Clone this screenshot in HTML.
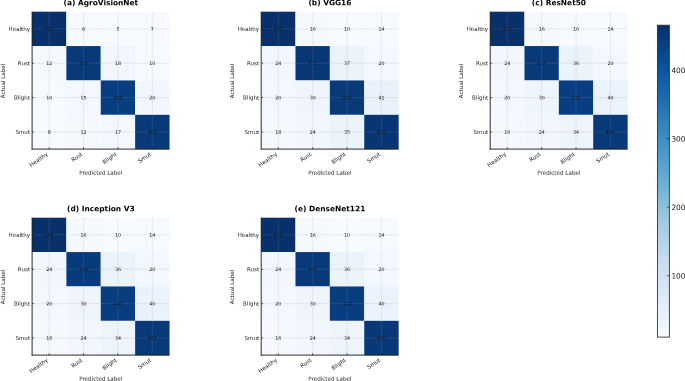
<!DOCTYPE html>
<html><head><meta charset="utf-8"><title>Confusion matrices</title>
<style>html,body{margin:0;padding:0;background:#fff}svg{display:block;will-change:transform}text{text-rendering:geometricPrecision;font-family:"DejaVu Sans","Liberation Sans",sans-serif;fill:#161616}.b{font-weight:bold;fill:#000}</style>
</head><body>
<svg width="685" height="381" viewBox="0 0 685 381">
<rect width="685" height="381" fill="#fff"/>
<g transform="translate(32.0,11.7)">
<rect x="0.000" y="0.000" width="34.425" height="34.425" fill="#08306b"/>
<rect x="34.375" y="0.000" width="34.425" height="34.425" fill="#f6faff"/>
<rect x="68.750" y="0.000" width="34.425" height="34.425" fill="#f7fbff"/>
<rect x="103.125" y="0.000" width="34.425" height="34.425" fill="#f6faff"/>
<rect x="0.000" y="34.375" width="34.425" height="34.425" fill="#f5f9fe"/>
<rect x="34.375" y="34.375" width="34.425" height="34.425" fill="#083a7a"/>
<rect x="68.750" y="34.375" width="34.425" height="34.425" fill="#f2f7fd"/>
<rect x="103.125" y="34.375" width="34.425" height="34.425" fill="#f5fafe"/>
<rect x="0.000" y="68.750" width="34.425" height="34.425" fill="#f5fafe"/>
<rect x="34.375" y="68.750" width="34.425" height="34.425" fill="#f3f8fe"/>
<rect x="68.750" y="68.750" width="34.425" height="34.425" fill="#083d7f"/>
<rect x="103.125" y="68.750" width="34.425" height="34.425" fill="#f1f7fd"/>
<rect x="0.000" y="103.125" width="34.425" height="34.425" fill="#f6faff"/>
<rect x="34.375" y="103.125" width="34.425" height="34.425" fill="#f5f9fe"/>
<rect x="68.750" y="103.125" width="34.425" height="34.425" fill="#f2f8fd"/>
<rect x="103.125" y="103.125" width="34.425" height="34.425" fill="#083979"/>
<path d="M17.188 0V137.5M0 17.188H137.5M51.562 0V137.5M0 51.562H137.5M85.938 0V137.5M0 85.938H137.5M120.312 0V137.5M0 120.312H137.5" stroke="#9c9c9c" stroke-opacity="0.55" stroke-width="0.5" stroke-dasharray="1.5 0.7" fill="none"/>
<path d="M17.188 137.5v-2.0M0 17.188h2.0M51.562 137.5v-2.0M0 51.562h2.0M85.938 137.5v-2.0M0 85.938h2.0M120.312 137.5v-2.0M0 120.312h2.0" stroke="#000" stroke-width="0.6" fill="none"/>
<path d="M0.1 0V137.88M-0.38 137.40H137.5" stroke="#222" stroke-width="0.95" fill="none"/>
<text transform="translate(17.19,18.93) rotate(0.1)" font-size="4.77" text-anchor="middle">480</text>
<text transform="translate(51.56,18.93) rotate(0.1)" font-size="4.77" text-anchor="middle">8</text>
<text transform="translate(85.94,18.93) rotate(0.1)" font-size="4.77" text-anchor="middle">5</text>
<text transform="translate(120.31,18.93) rotate(0.1)" font-size="4.77" text-anchor="middle">7</text>
<text transform="translate(17.19,53.30) rotate(0.1)" font-size="4.77" text-anchor="middle">12</text>
<text transform="translate(51.56,53.30) rotate(0.1)" font-size="4.77" text-anchor="middle">460</text>
<text transform="translate(85.94,53.30) rotate(0.1)" font-size="4.77" text-anchor="middle">18</text>
<text transform="translate(120.31,53.30) rotate(0.1)" font-size="4.77" text-anchor="middle">10</text>
<text transform="translate(17.19,87.68) rotate(0.1)" font-size="4.77" text-anchor="middle">10</text>
<text transform="translate(51.56,87.68) rotate(0.1)" font-size="4.77" text-anchor="middle">15</text>
<text transform="translate(85.94,87.68) rotate(0.1)" font-size="4.77" text-anchor="middle">455</text>
<text transform="translate(120.31,87.68) rotate(0.1)" font-size="4.77" text-anchor="middle">20</text>
<text transform="translate(17.19,122.05) rotate(0.1)" font-size="4.77" text-anchor="middle">8</text>
<text transform="translate(51.56,122.05) rotate(0.1)" font-size="4.77" text-anchor="middle">12</text>
<text transform="translate(85.94,122.05) rotate(0.1)" font-size="4.77" text-anchor="middle">17</text>
<text transform="translate(120.31,122.05) rotate(0.1)" font-size="4.77" text-anchor="middle">463</text>
<text transform="translate(-2.05,19.20) rotate(0.1)" font-size="5.5" text-anchor="end">Healthy</text>
<text transform="translate(16.49,143.30) rotate(-35)" font-size="5.5" text-anchor="end">Healthy</text>
<text transform="translate(-2.05,53.57) rotate(0.1)" font-size="5.5" text-anchor="end">Rust</text>
<text transform="translate(50.86,143.30) rotate(-35)" font-size="5.5" text-anchor="end">Rust</text>
<text transform="translate(-2.05,87.94) rotate(0.1)" font-size="5.5" text-anchor="end">Blight</text>
<text transform="translate(85.24,143.30) rotate(-35)" font-size="5.5" text-anchor="end">Blight</text>
<text transform="translate(-2.05,122.32) rotate(0.1)" font-size="5.5" text-anchor="end">Smut</text>
<text transform="translate(119.61,143.30) rotate(-35)" font-size="5.5" text-anchor="end">Smut</text>
<text transform="translate(68.75,163.1) rotate(0.1)" font-size="5.62" text-anchor="middle">Predicted Label</text>
<text transform="translate(-27.1,69.25) rotate(-89.9)" font-size="5.62" text-anchor="middle">Actual Label</text>
<text class="b" transform="translate(68.85,-6.50) rotate(0.1)" font-size="7.44" text-anchor="middle">(a) AgroVisionNet</text>
</g>
<g transform="translate(261.1,11.7)">
<rect x="0.000" y="0.000" width="34.425" height="34.425" fill="#08306b"/>
<rect x="34.375" y="0.000" width="34.425" height="34.425" fill="#f5f9fe"/>
<rect x="68.750" y="0.000" width="34.425" height="34.425" fill="#f7fbff"/>
<rect x="103.125" y="0.000" width="34.425" height="34.425" fill="#f5fafe"/>
<rect x="0.000" y="34.375" width="34.425" height="34.425" fill="#f1f7fd"/>
<rect x="34.375" y="34.375" width="34.425" height="34.425" fill="#083776"/>
<rect x="68.750" y="34.375" width="34.425" height="34.425" fill="#ebf3fb"/>
<rect x="103.125" y="34.375" width="34.425" height="34.425" fill="#f3f8fe"/>
<rect x="0.000" y="68.750" width="34.425" height="34.425" fill="#f3f8fe"/>
<rect x="34.375" y="68.750" width="34.425" height="34.425" fill="#eef5fc"/>
<rect x="68.750" y="68.750" width="34.425" height="34.425" fill="#083a7a"/>
<rect x="103.125" y="68.750" width="34.425" height="34.425" fill="#e9f2fa"/>
<rect x="0.000" y="103.125" width="34.425" height="34.425" fill="#f4f9fe"/>
<rect x="34.375" y="103.125" width="34.425" height="34.425" fill="#f1f7fd"/>
<rect x="68.750" y="103.125" width="34.425" height="34.425" fill="#ecf4fb"/>
<rect x="103.125" y="103.125" width="34.425" height="34.425" fill="#083573"/>
<path d="M17.188 0V137.5M0 17.188H137.5M51.562 0V137.5M0 51.562H137.5M85.938 0V137.5M0 85.938H137.5M120.312 0V137.5M0 120.312H137.5" stroke="#9c9c9c" stroke-opacity="0.55" stroke-width="0.5" stroke-dasharray="1.5 0.7" fill="none"/>
<path d="M17.188 137.5v-2.0M0 17.188h2.0M51.562 137.5v-2.0M0 51.562h2.0M85.938 137.5v-2.0M0 85.938h2.0M120.312 137.5v-2.0M0 120.312h2.0" stroke="#000" stroke-width="0.6" fill="none"/>
<path d="M0.1 0V137.88M-0.38 137.40H137.5" stroke="#222" stroke-width="0.95" fill="none"/>
<text transform="translate(17.19,18.93) rotate(0.1)" font-size="4.77" text-anchor="middle">443</text>
<text transform="translate(51.56,18.93) rotate(0.1)" font-size="4.77" text-anchor="middle">16</text>
<text transform="translate(85.94,18.93) rotate(0.1)" font-size="4.77" text-anchor="middle">10</text>
<text transform="translate(120.31,18.93) rotate(0.1)" font-size="4.77" text-anchor="middle">14</text>
<text transform="translate(17.19,53.30) rotate(0.1)" font-size="4.77" text-anchor="middle">24</text>
<text transform="translate(51.56,53.30) rotate(0.1)" font-size="4.77" text-anchor="middle">431</text>
<text transform="translate(85.94,53.30) rotate(0.1)" font-size="4.77" text-anchor="middle">37</text>
<text transform="translate(120.31,53.30) rotate(0.1)" font-size="4.77" text-anchor="middle">20</text>
<text transform="translate(17.19,87.68) rotate(0.1)" font-size="4.77" text-anchor="middle">20</text>
<text transform="translate(51.56,87.68) rotate(0.1)" font-size="4.77" text-anchor="middle">30</text>
<text transform="translate(85.94,87.68) rotate(0.1)" font-size="4.77" text-anchor="middle">426</text>
<text transform="translate(120.31,87.68) rotate(0.1)" font-size="4.77" text-anchor="middle">41</text>
<text transform="translate(17.19,122.05) rotate(0.1)" font-size="4.77" text-anchor="middle">18</text>
<text transform="translate(51.56,122.05) rotate(0.1)" font-size="4.77" text-anchor="middle">24</text>
<text transform="translate(85.94,122.05) rotate(0.1)" font-size="4.77" text-anchor="middle">35</text>
<text transform="translate(120.31,122.05) rotate(0.1)" font-size="4.77" text-anchor="middle">433</text>
<text transform="translate(-2.05,19.20) rotate(0.1)" font-size="5.5" text-anchor="end">Healthy</text>
<text transform="translate(16.49,143.30) rotate(-35)" font-size="5.5" text-anchor="end">Healthy</text>
<text transform="translate(-2.05,53.57) rotate(0.1)" font-size="5.5" text-anchor="end">Rust</text>
<text transform="translate(50.86,143.30) rotate(-35)" font-size="5.5" text-anchor="end">Rust</text>
<text transform="translate(-2.05,87.94) rotate(0.1)" font-size="5.5" text-anchor="end">Blight</text>
<text transform="translate(85.24,143.30) rotate(-35)" font-size="5.5" text-anchor="end">Blight</text>
<text transform="translate(-2.05,122.32) rotate(0.1)" font-size="5.5" text-anchor="end">Smut</text>
<text transform="translate(119.61,143.30) rotate(-35)" font-size="5.5" text-anchor="end">Smut</text>
<text transform="translate(68.75,163.1) rotate(0.1)" font-size="5.62" text-anchor="middle">Predicted Label</text>
<text transform="translate(-27.1,69.25) rotate(-89.9)" font-size="5.62" text-anchor="middle">Actual Label</text>
<text class="b" transform="translate(68.85,-6.50) rotate(0.1)" font-size="7.44" text-anchor="middle">(b) VGG16</text>
</g>
<g transform="translate(490.1,11.7)">
<rect x="0.000" y="0.000" width="34.425" height="34.425" fill="#08306b"/>
<rect x="34.375" y="0.000" width="34.425" height="34.425" fill="#f5f9fe"/>
<rect x="68.750" y="0.000" width="34.425" height="34.425" fill="#f7fbff"/>
<rect x="103.125" y="0.000" width="34.425" height="34.425" fill="#f5fafe"/>
<rect x="0.000" y="34.375" width="34.425" height="34.425" fill="#f1f7fd"/>
<rect x="34.375" y="34.375" width="34.425" height="34.425" fill="#083a7a"/>
<rect x="68.750" y="34.375" width="34.425" height="34.425" fill="#ecf4fb"/>
<rect x="103.125" y="34.375" width="34.425" height="34.425" fill="#f3f8fe"/>
<rect x="0.000" y="68.750" width="34.425" height="34.425" fill="#f3f8fe"/>
<rect x="34.375" y="68.750" width="34.425" height="34.425" fill="#eef5fc"/>
<rect x="68.750" y="68.750" width="34.425" height="34.425" fill="#083e81"/>
<rect x="103.125" y="68.750" width="34.425" height="34.425" fill="#eaf2fb"/>
<rect x="0.000" y="103.125" width="34.425" height="34.425" fill="#f5f9fe"/>
<rect x="34.375" y="103.125" width="34.425" height="34.425" fill="#f1f7fd"/>
<rect x="68.750" y="103.125" width="34.425" height="34.425" fill="#edf4fc"/>
<rect x="103.125" y="103.125" width="34.425" height="34.425" fill="#083979"/>
<path d="M17.188 0V137.5M0 17.188H137.5M51.562 0V137.5M0 51.562H137.5M85.938 0V137.5M0 85.938H137.5M120.312 0V137.5M0 120.312H137.5" stroke="#9c9c9c" stroke-opacity="0.55" stroke-width="0.5" stroke-dasharray="1.5 0.7" fill="none"/>
<path d="M17.188 137.5v-2.0M0 17.188h2.0M51.562 137.5v-2.0M0 51.562h2.0M85.938 137.5v-2.0M0 85.938h2.0M120.312 137.5v-2.0M0 120.312h2.0" stroke="#000" stroke-width="0.6" fill="none"/>
<path d="M0.1 0V137.88M-0.38 137.40H137.5" stroke="#222" stroke-width="0.95" fill="none"/>
<text transform="translate(17.19,18.93) rotate(0.1)" font-size="4.77" text-anchor="middle">457</text>
<text transform="translate(51.56,18.93) rotate(0.1)" font-size="4.77" text-anchor="middle">16</text>
<text transform="translate(85.94,18.93) rotate(0.1)" font-size="4.77" text-anchor="middle">10</text>
<text transform="translate(120.31,18.93) rotate(0.1)" font-size="4.77" text-anchor="middle">14</text>
<text transform="translate(17.19,53.30) rotate(0.1)" font-size="4.77" text-anchor="middle">24</text>
<text transform="translate(51.56,53.30) rotate(0.1)" font-size="4.77" text-anchor="middle">438</text>
<text transform="translate(85.94,53.30) rotate(0.1)" font-size="4.77" text-anchor="middle">36</text>
<text transform="translate(120.31,53.30) rotate(0.1)" font-size="4.77" text-anchor="middle">20</text>
<text transform="translate(17.19,87.68) rotate(0.1)" font-size="4.77" text-anchor="middle">20</text>
<text transform="translate(51.56,87.68) rotate(0.1)" font-size="4.77" text-anchor="middle">30</text>
<text transform="translate(85.94,87.68) rotate(0.1)" font-size="4.77" text-anchor="middle">432</text>
<text transform="translate(120.31,87.68) rotate(0.1)" font-size="4.77" text-anchor="middle">40</text>
<text transform="translate(17.19,122.05) rotate(0.1)" font-size="4.77" text-anchor="middle">16</text>
<text transform="translate(51.56,122.05) rotate(0.1)" font-size="4.77" text-anchor="middle">24</text>
<text transform="translate(85.94,122.05) rotate(0.1)" font-size="4.77" text-anchor="middle">34</text>
<text transform="translate(120.31,122.05) rotate(0.1)" font-size="4.77" text-anchor="middle">441</text>
<text transform="translate(-2.05,19.20) rotate(0.1)" font-size="5.5" text-anchor="end">Healthy</text>
<text transform="translate(16.49,143.30) rotate(-35)" font-size="5.5" text-anchor="end">Healthy</text>
<text transform="translate(-2.05,53.57) rotate(0.1)" font-size="5.5" text-anchor="end">Rust</text>
<text transform="translate(50.86,143.30) rotate(-35)" font-size="5.5" text-anchor="end">Rust</text>
<text transform="translate(-2.05,87.94) rotate(0.1)" font-size="5.5" text-anchor="end">Blight</text>
<text transform="translate(85.24,143.30) rotate(-35)" font-size="5.5" text-anchor="end">Blight</text>
<text transform="translate(-2.05,122.32) rotate(0.1)" font-size="5.5" text-anchor="end">Smut</text>
<text transform="translate(119.61,143.30) rotate(-35)" font-size="5.5" text-anchor="end">Smut</text>
<text transform="translate(68.75,163.1) rotate(0.1)" font-size="5.62" text-anchor="middle">Predicted Label</text>
<text transform="translate(-27.1,69.25) rotate(-89.9)" font-size="5.62" text-anchor="middle">Actual Label</text>
<text class="b" transform="translate(68.85,-6.50) rotate(0.1)" font-size="7.44" text-anchor="middle">(c) ResNet50</text>
</g>
<g transform="translate(32.0,217.7)">
<rect x="0.000" y="0.000" width="34.425" height="34.425" fill="#08306b"/>
<rect x="34.375" y="0.000" width="34.425" height="34.425" fill="#f5f9fe"/>
<rect x="68.750" y="0.000" width="34.425" height="34.425" fill="#f7fbff"/>
<rect x="103.125" y="0.000" width="34.425" height="34.425" fill="#f5fafe"/>
<rect x="0.000" y="34.375" width="34.425" height="34.425" fill="#f2f7fd"/>
<rect x="34.375" y="34.375" width="34.425" height="34.425" fill="#083b7c"/>
<rect x="68.750" y="34.375" width="34.425" height="34.425" fill="#ecf4fb"/>
<rect x="103.125" y="34.375" width="34.425" height="34.425" fill="#f3f8fe"/>
<rect x="0.000" y="68.750" width="34.425" height="34.425" fill="#f3f8fe"/>
<rect x="34.375" y="68.750" width="34.425" height="34.425" fill="#eef5fc"/>
<rect x="68.750" y="68.750" width="34.425" height="34.425" fill="#083d7f"/>
<rect x="103.125" y="68.750" width="34.425" height="34.425" fill="#eaf3fb"/>
<rect x="0.000" y="103.125" width="34.425" height="34.425" fill="#f5f9fe"/>
<rect x="34.375" y="103.125" width="34.425" height="34.425" fill="#f2f7fd"/>
<rect x="68.750" y="103.125" width="34.425" height="34.425" fill="#edf4fc"/>
<rect x="103.125" y="103.125" width="34.425" height="34.425" fill="#083979"/>
<path d="M17.188 0V137.5M0 17.188H137.5M51.562 0V137.5M0 51.562H137.5M85.938 0V137.5M0 85.938H137.5M120.312 0V137.5M0 120.312H137.5" stroke="#9c9c9c" stroke-opacity="0.55" stroke-width="0.5" stroke-dasharray="1.5 0.7" fill="none"/>
<path d="M17.188 137.5v-2.0M0 17.188h2.0M51.562 137.5v-2.0M0 51.562h2.0M85.938 137.5v-2.0M0 85.938h2.0M120.312 137.5v-2.0M0 120.312h2.0" stroke="#000" stroke-width="0.6" fill="none"/>
<path d="M0.1 0V137.88M-0.38 137.40H137.5" stroke="#222" stroke-width="0.95" fill="none"/>
<text transform="translate(17.19,18.93) rotate(0.1)" font-size="4.77" text-anchor="middle">464</text>
<text transform="translate(51.56,18.93) rotate(0.1)" font-size="4.77" text-anchor="middle">16</text>
<text transform="translate(85.94,18.93) rotate(0.1)" font-size="4.77" text-anchor="middle">10</text>
<text transform="translate(120.31,18.93) rotate(0.1)" font-size="4.77" text-anchor="middle">14</text>
<text transform="translate(17.19,53.30) rotate(0.1)" font-size="4.77" text-anchor="middle">24</text>
<text transform="translate(51.56,53.30) rotate(0.1)" font-size="4.77" text-anchor="middle">444</text>
<text transform="translate(85.94,53.30) rotate(0.1)" font-size="4.77" text-anchor="middle">36</text>
<text transform="translate(120.31,53.30) rotate(0.1)" font-size="4.77" text-anchor="middle">20</text>
<text transform="translate(17.19,87.68) rotate(0.1)" font-size="4.77" text-anchor="middle">20</text>
<text transform="translate(51.56,87.68) rotate(0.1)" font-size="4.77" text-anchor="middle">30</text>
<text transform="translate(85.94,87.68) rotate(0.1)" font-size="4.77" text-anchor="middle">440</text>
<text transform="translate(120.31,87.68) rotate(0.1)" font-size="4.77" text-anchor="middle">40</text>
<text transform="translate(17.19,122.05) rotate(0.1)" font-size="4.77" text-anchor="middle">16</text>
<text transform="translate(51.56,122.05) rotate(0.1)" font-size="4.77" text-anchor="middle">24</text>
<text transform="translate(85.94,122.05) rotate(0.1)" font-size="4.77" text-anchor="middle">34</text>
<text transform="translate(120.31,122.05) rotate(0.1)" font-size="4.77" text-anchor="middle">447</text>
<text transform="translate(-2.05,19.20) rotate(0.1)" font-size="5.5" text-anchor="end">Healthy</text>
<text transform="translate(16.49,143.30) rotate(-35)" font-size="5.5" text-anchor="end">Healthy</text>
<text transform="translate(-2.05,53.57) rotate(0.1)" font-size="5.5" text-anchor="end">Rust</text>
<text transform="translate(50.86,143.30) rotate(-35)" font-size="5.5" text-anchor="end">Rust</text>
<text transform="translate(-2.05,87.94) rotate(0.1)" font-size="5.5" text-anchor="end">Blight</text>
<text transform="translate(85.24,143.30) rotate(-35)" font-size="5.5" text-anchor="end">Blight</text>
<text transform="translate(-2.05,122.32) rotate(0.1)" font-size="5.5" text-anchor="end">Smut</text>
<text transform="translate(119.61,143.30) rotate(-35)" font-size="5.5" text-anchor="end">Smut</text>
<text transform="translate(68.75,163.1) rotate(0.1)" font-size="5.62" text-anchor="middle">Predicted Label</text>
<text transform="translate(-27.1,69.25) rotate(-89.9)" font-size="5.62" text-anchor="middle">Actual Label</text>
<text class="b" transform="translate(68.85,-6.40) rotate(0.1)" font-size="7.44" text-anchor="middle">(d) Inception V3</text>
</g>
<g transform="translate(261.1,217.7)">
<rect x="0.000" y="0.000" width="34.425" height="34.425" fill="#08306b"/>
<rect x="34.375" y="0.000" width="34.425" height="34.425" fill="#f5f9fe"/>
<rect x="68.750" y="0.000" width="34.425" height="34.425" fill="#f7fbff"/>
<rect x="103.125" y="0.000" width="34.425" height="34.425" fill="#f5fafe"/>
<rect x="0.000" y="34.375" width="34.425" height="34.425" fill="#f2f7fd"/>
<rect x="34.375" y="34.375" width="34.425" height="34.425" fill="#083a7a"/>
<rect x="68.750" y="34.375" width="34.425" height="34.425" fill="#ecf4fb"/>
<rect x="103.125" y="34.375" width="34.425" height="34.425" fill="#f3f8fe"/>
<rect x="0.000" y="68.750" width="34.425" height="34.425" fill="#f3f8fe"/>
<rect x="34.375" y="68.750" width="34.425" height="34.425" fill="#eef5fc"/>
<rect x="68.750" y="68.750" width="34.425" height="34.425" fill="#083d7f"/>
<rect x="103.125" y="68.750" width="34.425" height="34.425" fill="#eaf3fb"/>
<rect x="0.000" y="103.125" width="34.425" height="34.425" fill="#f5f9fe"/>
<rect x="34.375" y="103.125" width="34.425" height="34.425" fill="#f2f7fd"/>
<rect x="68.750" y="103.125" width="34.425" height="34.425" fill="#edf4fc"/>
<rect x="103.125" y="103.125" width="34.425" height="34.425" fill="#083877"/>
<path d="M17.188 0V137.5M0 17.188H137.5M51.562 0V137.5M0 51.562H137.5M85.938 0V137.5M0 85.938H137.5M120.312 0V137.5M0 120.312H137.5" stroke="#9c9c9c" stroke-opacity="0.55" stroke-width="0.5" stroke-dasharray="1.5 0.7" fill="none"/>
<path d="M17.188 137.5v-2.0M0 17.188h2.0M51.562 137.5v-2.0M0 51.562h2.0M85.938 137.5v-2.0M0 85.938h2.0M120.312 137.5v-2.0M0 120.312h2.0" stroke="#000" stroke-width="0.6" fill="none"/>
<path d="M0.1 0V137.88M-0.38 137.40H137.5" stroke="#222" stroke-width="0.95" fill="none"/>
<text transform="translate(17.19,18.93) rotate(0.1)" font-size="4.77" text-anchor="middle">466</text>
<text transform="translate(51.56,18.93) rotate(0.1)" font-size="4.77" text-anchor="middle">16</text>
<text transform="translate(85.94,18.93) rotate(0.1)" font-size="4.77" text-anchor="middle">10</text>
<text transform="translate(120.31,18.93) rotate(0.1)" font-size="4.77" text-anchor="middle">14</text>
<text transform="translate(17.19,53.30) rotate(0.1)" font-size="4.77" text-anchor="middle">24</text>
<text transform="translate(51.56,53.30) rotate(0.1)" font-size="4.77" text-anchor="middle">447</text>
<text transform="translate(85.94,53.30) rotate(0.1)" font-size="4.77" text-anchor="middle">36</text>
<text transform="translate(120.31,53.30) rotate(0.1)" font-size="4.77" text-anchor="middle">20</text>
<text transform="translate(17.19,87.68) rotate(0.1)" font-size="4.77" text-anchor="middle">20</text>
<text transform="translate(51.56,87.68) rotate(0.1)" font-size="4.77" text-anchor="middle">30</text>
<text transform="translate(85.94,87.68) rotate(0.1)" font-size="4.77" text-anchor="middle">442</text>
<text transform="translate(120.31,87.68) rotate(0.1)" font-size="4.77" text-anchor="middle">40</text>
<text transform="translate(17.19,122.05) rotate(0.1)" font-size="4.77" text-anchor="middle">16</text>
<text transform="translate(51.56,122.05) rotate(0.1)" font-size="4.77" text-anchor="middle">24</text>
<text transform="translate(85.94,122.05) rotate(0.1)" font-size="4.77" text-anchor="middle">34</text>
<text transform="translate(120.31,122.05) rotate(0.1)" font-size="4.77" text-anchor="middle">450</text>
<text transform="translate(-2.05,19.20) rotate(0.1)" font-size="5.5" text-anchor="end">Healthy</text>
<text transform="translate(16.49,143.30) rotate(-35)" font-size="5.5" text-anchor="end">Healthy</text>
<text transform="translate(-2.05,53.57) rotate(0.1)" font-size="5.5" text-anchor="end">Rust</text>
<text transform="translate(50.86,143.30) rotate(-35)" font-size="5.5" text-anchor="end">Rust</text>
<text transform="translate(-2.05,87.94) rotate(0.1)" font-size="5.5" text-anchor="end">Blight</text>
<text transform="translate(85.24,143.30) rotate(-35)" font-size="5.5" text-anchor="end">Blight</text>
<text transform="translate(-2.05,122.32) rotate(0.1)" font-size="5.5" text-anchor="end">Smut</text>
<text transform="translate(119.61,143.30) rotate(-35)" font-size="5.5" text-anchor="end">Smut</text>
<text transform="translate(68.75,163.1) rotate(0.1)" font-size="5.62" text-anchor="middle">Predicted Label</text>
<text transform="translate(-27.1,69.25) rotate(-89.9)" font-size="5.62" text-anchor="middle">Actual Label</text>
<text class="b" transform="translate(68.85,-6.40) rotate(0.1)" font-size="7.44" text-anchor="middle">(e) DenseNet121</text>
</g>
<defs><linearGradient id="cb" x1="0" y1="0" x2="0" y2="1"><stop offset="0.0000" stop-color="#08306b"/><stop offset="0.0312" stop-color="#083776"/><stop offset="0.0625" stop-color="#084082"/><stop offset="0.0938" stop-color="#08488e"/><stop offset="0.1250" stop-color="#08509b"/><stop offset="0.1562" stop-color="#0e58a2"/><stop offset="0.1875" stop-color="#1460a8"/><stop offset="0.2188" stop-color="#1a68ae"/><stop offset="0.2500" stop-color="#2070b4"/><stop offset="0.2812" stop-color="#2979b9"/><stop offset="0.3125" stop-color="#3181bd"/><stop offset="0.3438" stop-color="#3989c1"/><stop offset="0.3750" stop-color="#4191c6"/><stop offset="0.4062" stop-color="#4b98ca"/><stop offset="0.4375" stop-color="#56a0ce"/><stop offset="0.4688" stop-color="#60a7d2"/><stop offset="0.5000" stop-color="#6aaed6"/><stop offset="0.5312" stop-color="#77b5d9"/><stop offset="0.5625" stop-color="#84bcdb"/><stop offset="0.5938" stop-color="#91c3de"/><stop offset="0.6250" stop-color="#9dcae1"/><stop offset="0.6562" stop-color="#a8cee4"/><stop offset="0.6875" stop-color="#b2d2e8"/><stop offset="0.7188" stop-color="#bcd7eb"/><stop offset="0.7500" stop-color="#c6dbef"/><stop offset="0.7812" stop-color="#ccdff1"/><stop offset="0.8125" stop-color="#d2e3f3"/><stop offset="0.8438" stop-color="#d8e7f5"/><stop offset="0.8750" stop-color="#deebf7"/><stop offset="0.9062" stop-color="#e4eff9"/><stop offset="0.9375" stop-color="#eaf3fb"/><stop offset="0.9688" stop-color="#f1f7fd"/><stop offset="1.0000" stop-color="#f7fbff"/></linearGradient></defs>
<rect x="657.4" y="25.2" width="11.95" height="311.90" fill="url(#cb)" stroke="#2a2a2a" stroke-width="0.85"/>
<path d="M669.35 70.25h-2.7" stroke="#000" stroke-width="0.5"/>
<text transform="translate(671.4,73.10) rotate(0.1)" font-size="7.4">400</text>
<path d="M669.35 138.7h-2.7" stroke="#000" stroke-width="0.5"/>
<text transform="translate(671.4,141.55) rotate(0.1)" font-size="7.4">300</text>
<path d="M669.35 207.2h-2.7" stroke="#000" stroke-width="0.5"/>
<text transform="translate(671.4,210.05) rotate(0.1)" font-size="7.4">200</text>
<path d="M669.35 275.65h-2.7" stroke="#000" stroke-width="0.5"/>
<text transform="translate(671.4,278.50) rotate(0.1)" font-size="7.4">100</text>
</svg></body></html>
